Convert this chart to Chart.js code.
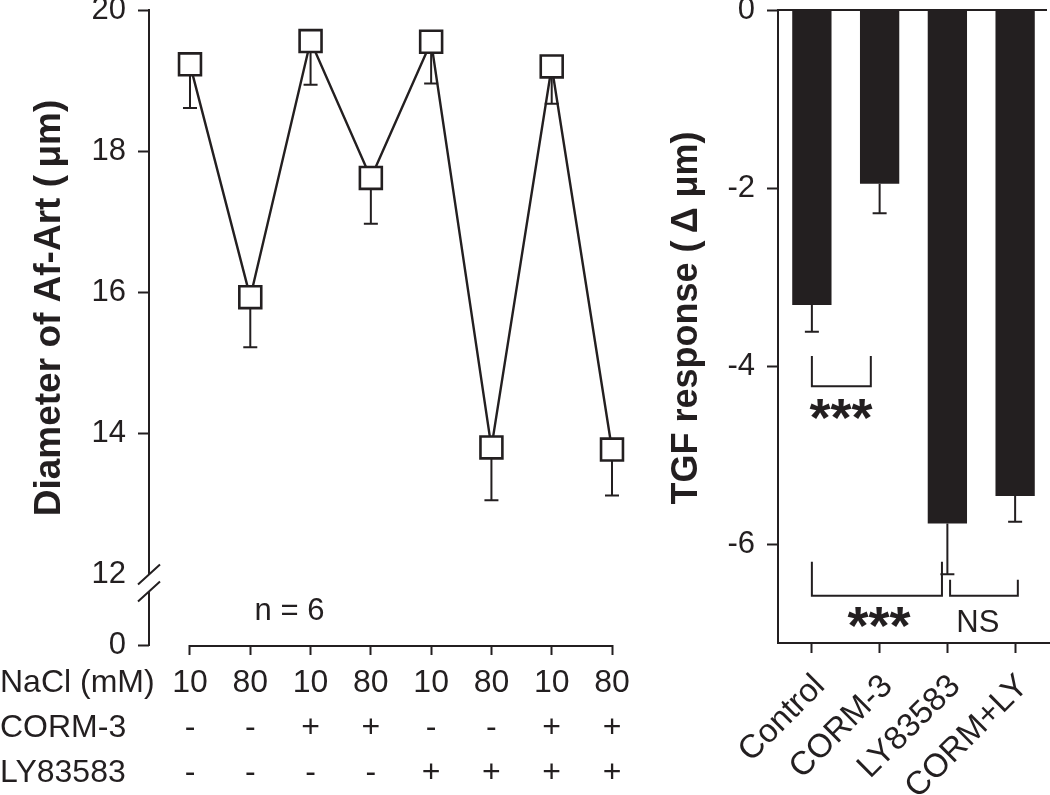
<!DOCTYPE html>
<html>
<head>
<meta charset="utf-8">
<script src="https://cdn.jsdelivr.net/npm/chart.js@4.4.1/dist/chart.umd.min.js"></script>
<style>
  body { margin: 0; background: #fff; width: 1050px; height: 795px; position: relative; overflow: hidden; }
  #diameterChart { position: absolute; left: 0; top: 0; }
  #tgfChart { position: absolute; left: 640px; top: 0; }
</style>
</head>
<body>
<canvas id="diameterChart" width="660" height="795"></canvas>
<canvas id="tgfChart" width="410" height="795"></canvas>
<script>
// left panel
const nacl = ['10', '80', '10', '80', '10', '80', '10', '80'];
const corm3 = ['-', '-', '+', '+', '-', '-', '+', '+'];
const ly83583 = ['-', '-', '-', '-', '+', '+', '+', '+'];
const rowNames = ['NaCl (mM)', 'CORM-3', 'LY83583'];
const diameter = [19.23, 15.93, 19.56, 17.62, 19.55, 13.80, 19.20, 13.77];
const diameterErr = [0.62, 0.71, 0.62, 0.65, 0.59, 0.75, 0.53, 0.65];
const diameterTicks = [11, 12, 14, 16, 18, 20]; // 11 stands for the broken-off 0

// right panel
const groups = ['Control', 'CORM-3', 'LY83583', 'CORM+LY'];
const tgf = [-3.31, -1.95, -5.76, -5.45];
const tgfErr = [0.30, 0.33, 0.57, 0.29];
const tgfTicks = [0, -2, -4, -6];

const ink = '#231f20';
const family = '"Liberation Sans", Arial, sans-serif';
const rowHeight = 45;
const rowPad = 6;

Chart.defaults.font.family = family;
Chart.defaults.color = ink;

const noPadding = (s) => {
  s.paddingTop = 0; s.paddingBottom = 0; s.paddingLeft = 0; s.paddingRight = 0;
};

const leftDecor = {
  id: 'leftDecor',
  beforeDatasetsDraw(chart) {
    const {ctx, scales: {x, y}} = chart;
    ctx.save();
    ctx.strokeStyle = ink;
    ctx.lineWidth = 2;
    ctx.beginPath();
    diameter.forEach((v, i) => {
      const px = x.getPixelForValue(i + 1);
      const top = y.getPixelForValue(v);
      const bot = y.getPixelForValue(v - diameterErr[i]);
      ctx.moveTo(px, top);
      ctx.lineTo(px, bot);
      ctx.moveTo(px - 7, bot);
      ctx.lineTo(px + 7, bot);
    });
    ctx.stroke();
    ctx.restore();
  },
  afterDraw(chart) {
    const {ctx, scales: {x, y}, chartArea} = chart;
    ctx.save();
    ctx.strokeStyle = ink;
    ctx.lineWidth = 2;
    // y axis with a break between 0 and 12
    const ax = chartArea.left;
    const b1 = y.getPixelForValue(12);
    const b2 = b1 + 17;
    ctx.beginPath();
    ctx.moveTo(ax, chartArea.top - 1);
    ctx.lineTo(ax, b1);
    ctx.moveTo(ax, b2);
    ctx.lineTo(ax, chartArea.bottom + 1);
    [b1, b2].forEach(b => {
      ctx.moveTo(ax - 11, b + 10);
      ctx.lineTo(ax + 11, b - 10);
    });
    // x axis only spans the points
    const xb = chartArea.bottom + 1;
    ctx.moveTo(x.getPixelForValue(1) - 1, xb);
    ctx.lineTo(x.getPixelForValue(8) + 1, xb);
    ctx.stroke();

    ctx.fillStyle = ink;
    // row headers lined up with the tick label rows
    const y0 = x.top + 10 + rowPad + rowHeight / 2;
    ctx.font = `32px ${family}`;
    ctx.textAlign = 'left';
    ctx.textBaseline = 'middle';
    rowNames.forEach((t, i) => ctx.fillText(t, 0, y0 + i * rowHeight));

    ctx.font = `31px ${family}`;
    ctx.textAlign = 'center';
    ctx.fillText('n = 6', x.getPixelForValue(2.65), y.getPixelForValue(11.47));

    // axis title
    ctx.save();
    ctx.translate(50, 308);
    ctx.rotate(-Math.PI / 2);
    ctx.font = `bold 37px ${family}`;
    ctx.fillText('Diameter of Af-Art (\u2009μm)', 0, 0);
    ctx.restore();
    ctx.restore();
  }
};

new Chart(document.getElementById('diameterChart'), {
  type: 'line',
  data: {
    datasets: [{
      data: diameter.map((v, i) => ({x: i + 1, y: v})),
      borderColor: ink,
      borderWidth: 2.4,
      tension: 0,
      pointStyle: 'rect',
      pointRadius: 15.5,
      pointBackgroundColor: '#fff',
      pointBorderColor: ink,
      pointBorderWidth: 2.6,
      clip: false
    }]
  },
  options: {
    responsive: false,
    animation: false,
    layout: {autoPadding: false, padding: {top: 10, right: 48, left: 0, bottom: 0}},
    plugins: {legend: {display: false}, tooltip: {enabled: false}},
    scales: {
      x: {
        type: 'linear',
        min: 0.32,
        max: 8,
        afterBuildTicks: (s) => { s.ticks = nacl.map((_, i) => ({value: i + 1})); },
        afterFit: (s) => { s.height = 150; noPadding(s); },
        border: {display: false},
        grid: {drawOnChartArea: false, tickLength: 10, tickWidth: 2, color: ink},
        ticks: {
          padding: rowPad,
          autoSkip: false,
          maxRotation: 0,
          font: {size: 32, lineHeight: rowHeight / 32},
          callback: (v) => [nacl[v - 1], corm3[v - 1], ly83583[v - 1]]
        }
      },
      y: {
        min: 11,
        max: 20,
        afterBuildTicks: (s) => { s.ticks = diameterTicks.map(v => ({value: v})); },
        afterFit: (s) => { s.width = 149; noPadding(s); },
        border: {display: false},
        grid: {
          drawOnChartArea: false,
          tickLength: 11,
          tickWidth: 2,
          color: (c) => (c.tick && c.tick.value === 12 ? 'rgba(0,0,0,0)' : ink)
        },
        ticks: {
          padding: 12,
          font: {size: 31},
          callback: (v) => (v === 11 ? '0' : String(v))
        }
      }
    }
  },
  plugins: [leftDecor]
});

// significance marks, positions in category units
const brackets = [
  {from: 0, to: 0.87, top: -3.88, bottom: -4.22, label: '***', at: 0.43, dy: 50, bold: true},
  {from: 0, to: 1.92, top: -6.19, bottom: -6.57, label: '***', at: 0.99, dy: 48, bold: true},
  {from: 2.04, to: 3.04, top: -6.39, bottom: -6.57, label: 'NS', at: 2.45, dy: 36, bold: false}
];

const rightDecor = {
  id: 'rightDecor',
  afterDraw(chart) {
    const {ctx, scales: {x, y}, chartArea} = chart;
    ctx.save();
    ctx.strokeStyle = ink;
    ctx.lineWidth = 2;
    ctx.beginPath();
    const zy = y.getPixelForValue(0);
    ctx.moveTo(chartArea.left, zy);
    ctx.lineTo(chartArea.right - 2, zy);
    tgf.forEach((v, i) => {
      const px = x.getPixelForValue(i);
      const a = y.getPixelForValue(v);
      const b = y.getPixelForValue(v - tgfErr[i]);
      ctx.moveTo(px, a);
      ctx.lineTo(px, b);
      ctx.moveTo(px - 7, b);
      ctx.lineTo(px + 7, b);
    });
    const catW = x.getPixelForValue(1) - x.getPixelForValue(0);
    const cx = (u) => x.getPixelForValue(0) + u * catW;
    brackets.forEach(br => {
      const x0 = cx(br.from), x1 = cx(br.to);
      const t = y.getPixelForValue(br.top), bt = y.getPixelForValue(br.bottom);
      ctx.moveTo(x0, t);
      ctx.lineTo(x0, bt);
      ctx.lineTo(x1, bt);
      ctx.lineTo(x1, t);
    });
    ctx.stroke();

    ctx.fillStyle = ink;
    ctx.textAlign = 'center';
    ctx.textBaseline = 'alphabetic';
    brackets.forEach(br => {
      ctx.font = br.bold ? `bold 54px ${family}` : `31px ${family}`;
      ctx.fillText(br.label, cx(br.at), y.getPixelForValue(br.bottom) + br.dy);
    });

    ctx.save();
    ctx.translate(47, 318);
    ctx.rotate(-Math.PI / 2);
    ctx.textBaseline = 'middle';
    ctx.font = `bold 36px ${family}`;
    ctx.fillText('TGF response (\u2009Δ μm)', 0, 0);
    ctx.restore();
    ctx.restore();
  }
};

new Chart(document.getElementById('tgfChart'), {
  type: 'bar',
  data: {
    labels: groups,
    datasets: [{
      data: tgf,
      backgroundColor: ink,
      borderWidth: 0,
      categoryPercentage: 1,
      barPercentage: 0.58
    }]
  },
  options: {
    responsive: false,
    animation: false,
    layout: {autoPadding: false, padding: {top: 10, right: 1, left: 0, bottom: 0}},
    plugins: {legend: {display: false}, tooltip: {enabled: false}},
    scales: {
      x: {
        afterFit: (s) => { s.height = 152; noPadding(s); },
        border: {display: true, color: ink, width: 2},
        grid: {drawOnChartArea: false, tickLength: 10, tickWidth: 2, color: ink, offset: false},
        ticks: {
          padding: 14,
          labelOffset: 8,
          autoSkip: false,
          minRotation: 45,
          maxRotation: 45,
          font: {size: 33}
        }
      },
      y: {
        min: -7.1,
        max: 0,
        afterBuildTicks: (s) => { s.ticks = tgfTicks.map(v => ({value: v})); },
        afterFit: (s) => { s.width = 138; noPadding(s); },
        border: {display: true, color: ink, width: 2},
        grid: {drawOnChartArea: false, tickLength: 11, tickWidth: 2, color: ink},
        ticks: {
          padding: 12,
          font: {size: 31},
          callback: (v) => String(v)
        }
      }
    }
  },
  plugins: [rightDecor]
});
</script>
</body>
</html>
